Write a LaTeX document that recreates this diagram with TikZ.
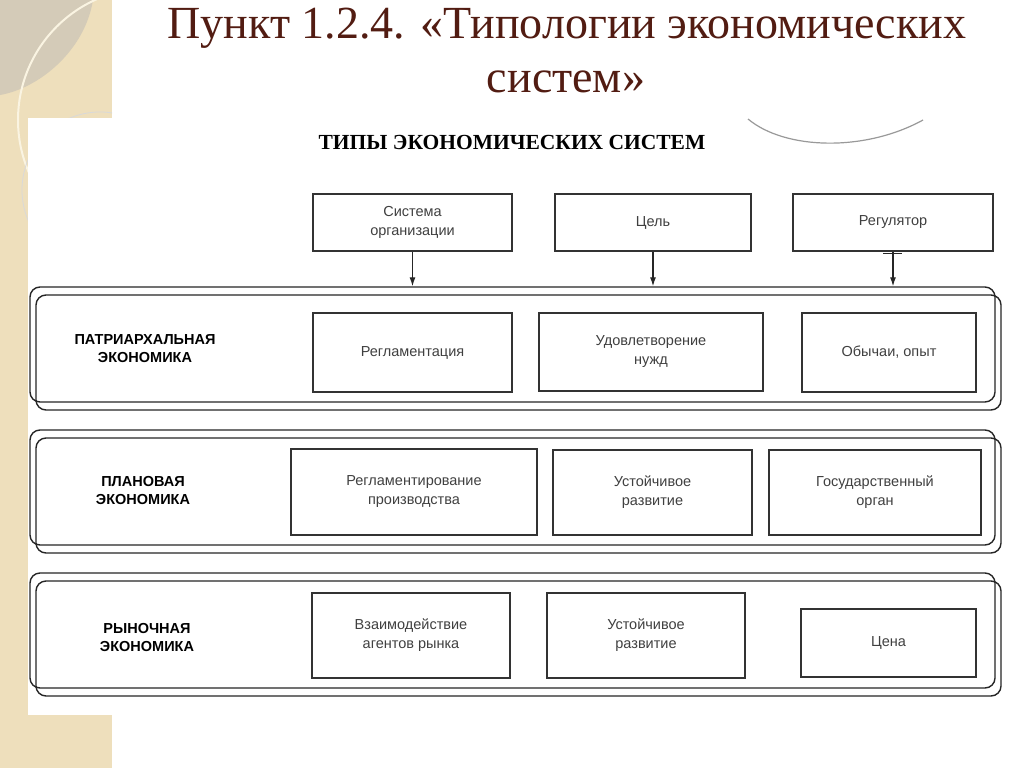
\documentclass[tikz,border=0pt]{standalone}
\usepackage{fontspec}
\setmainfont{Liberation Serif}
\setsansfont{Liberation Sans}
\usetikzlibrary{arrows.meta}
\definecolor{titlebrown}{RGB}{82,28,18}
\definecolor{stripbeige}{RGB}{238,223,188}
\definecolor{lensgrey}{RGB}{212,203,184}
\definecolor{circlecream}{RGB}{250,244,226}
\tikzset{
    cell/.style={draw=black!80, line width=1.2pt, fill=white, inner sep=0pt,
        font=\sffamily\fontsize{14.5}{19}\selectfont, text=black!75, align=center},
    band/.style={draw=black!85, line width=1.4pt, rounded corners=10pt, inner sep=0pt,
        minimum width=965pt, minimum height=115pt},
    rowlabel/.style={font=\sffamily\bfseries\fontsize{14.5}{18}\selectfont, align=center},
    arr/.style={-{Latex[length=9pt,width=6pt]}, line width=1.2pt, black!85}
}
\begin{document}
\begin{tikzpicture}[x=1pt,y=-1pt]
    \useasboundingbox (0,0) rectangle (1024,768);
    \fill[white] (0,0) rectangle (1024,768);
    \fill[stripbeige] (0,0) rectangle (112,768);
    \begin{scope}
        \clip (0,0) rectangle (112,768);
        \fill[lensgrey] (0,0) -- (93,0) .. controls (85,50) and (40,88) .. (0,95) -- cycle;
        \draw[circlecream, line width=2pt] (150,120) circle (132);
        \draw[black!15, line width=0.8pt] (100,190) circle (78);
    \end{scope}
    \fill[white] (28,118) rectangle (1024,715);

    \node[anchor=base, font=\fontsize{46}{50}\selectfont, text=titlebrown] (title) at (567,38)
        {Пункт 1.2.4. «Типологии экономических};
    \node[anchor=base, font=\fontsize{46}{50}\selectfont, text=titlebrown] (title2) at (566,92)
        {систем»};

    \node[font=\bfseries\fontsize{21.5}{24}\selectfont] (head) at (512,142)
        {ТИПЫ ЭКОНОМИЧЕСКИХ СИСТЕМ};
    \draw[black!40, line width=1.2pt] (748,119) .. controls (785,150) and (865,152) .. (923,120);

    \node[cell, minimum width=199pt, minimum height=57pt] (sys) at (412.5,222.5) {Система\\организации};
    \node[cell, minimum width=196pt, minimum height=57pt] (goal) at (653,222.5) {Цель};
    \node[cell, minimum width=200pt, minimum height=57pt] (reg) at (893,222.5) {Регулятор};

    \foreach \nm/\yy in {patr/287, plan/430, rynok/573} {
        \node[band] (\nm) at (512.5,\yy+57.5) {};
        \node[band] (\nm2) at (518.5,\yy+65.5) {};
    }

    \foreach \src in {sys, goal, reg} {
        \draw[arr] (\src.south) -- (\src.south |- patr.north);
    }
    \draw[line width=1.2pt, black!85] ([xshift=-10pt,yshift=-2pt]reg.south) -- ([xshift=9pt,yshift=-2pt]reg.south);

    \node[rowlabel] (patrlab) at (145,349) {ПАТРИАРХАЛЬНАЯ\\ЭКОНОМИКА};
    \node[rowlabel] (planlab) at (143,491) {ПЛАНОВАЯ\\ЭКОНОМИКА};
    \node[rowlabel] (rynoklab) at (147,637) {РЫНОЧНАЯ\\ЭКОНОМИКА};

    \node[cell, minimum width=199pt, minimum height=79pt] (patrsys) at (412.5,352.5) {Регламентация};
    \node[cell, minimum width=224pt, minimum height=78pt] (patrgoal) at (651,352) {Удовлетворение\\нужд};
    \node[cell, minimum width=174pt, minimum height=79pt] (patrreg) at (889,352.5) {Обычаи, опыт};

    \node[cell, minimum width=246pt, minimum height=86pt] (plansys) at (414,492) {Регламентирование\\производства};
    \node[cell, minimum width=199pt, minimum height=85pt] (plangoal) at (652.5,492.5) {Устойчивое\\развитие};
    \node[cell, minimum width=212pt, minimum height=85pt] (planreg) at (875,492.5) {Государственный\\орган};

    \node[cell, minimum width=198pt, minimum height=85pt] (rynoksys) at (411,635.5) {Взаимодействие\\агентов рынка};
    \node[cell, minimum width=198pt, minimum height=85pt] (rynokgoal) at (646,635.5) {Устойчивое\\развитие};
    \node[cell, minimum width=175pt, minimum height=68pt] (rynokreg) at (888.5,643) {Цена};
\end{tikzpicture}
\end{document}
